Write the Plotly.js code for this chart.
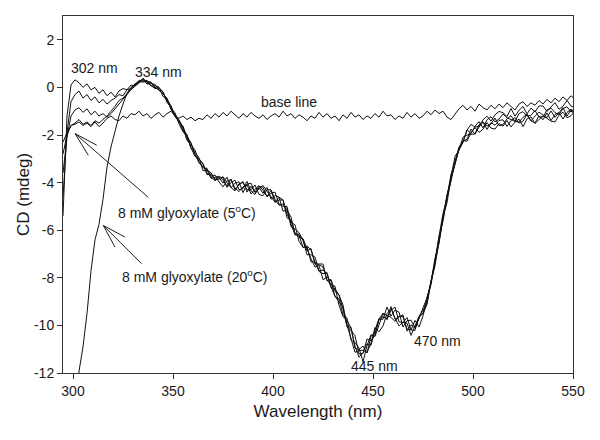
<!DOCTYPE html>
<html>
<head>
<meta charset="utf-8">
<script src="https://cdn.plot.ly/plotly-3.0.1.min.js"></script>
<style>html,body{margin:0;padding:0;background:#fff;}#chart{width:600px;height:440px;}</style>
</head>
<body>
<div id="chart"></div>
<script>
// Wavelength (nm)
const wavelength = [
295,297,299,301,303,305,307,309,311,313,
315,317,319,321,323,325,327,329,331,333,
335,337,339,341,343,345,347,349,351,353,
355,357,359,361,363,365,367,369,371,373,
375,377,379,381,383,385,387,389,391,393,
395,397,399,401,403,405,407,409,411,413,
415,417,419,421,423,425,427,429,431,433,
435,437,439,441,443,445,447,449,451,453,
455,457,459,461,463,465,467,469,471,473,
475,477,479,481,483,485,487,489,491,493,
495,497,499,501,503,505,507,509,511,513,
515,517,519,521,523,525,527,529,531,533,
535,537,539,541,543,545,547,549,551];

// CD (mdeg) – 8 mM glyoxylate, 5 °C scans
const scan1 = [
-5.4,-1.2,0.1,0.32,0.2,0.0,0.15,-0.1,0.0,-0.25,
-0.1,-0.35,-0.2,-0.4,-0.15,-0.05,-0.1,0.1,0.05,0.25,
0.36,0.14,0.16,0.13,-0.11,-0.30,-0.45,-0.89,-1.23,-1.41,
-1.81,-1.98,-2.57,-2.72,-2.96,-3.50,-3.49,-3.58,-3.89,-3.85,
-3.75,-4.00,-4.20,-4.35,-4.05,-4.00,-4.30,-4.30,-4.10,-4.50,
-4.55,-4.30,-4.30,-4.70,-4.95,-4.90,-5.10,-5.85,-5.95,-6.10,
-6.42,-6.87,-6.77,-7.42,-7.42,-7.42,-8.12,-8.07,-8.57,-8.72,
-9.14,-10.06,-10.21,-10.43,-11.20,-11.18,-10.57,-10.64,-10.41,-9.75,
-9.74,-9.23,-9.61,-9.36,-9.44,-10.07,-9.80,-9.78,-10.10,-9.72,
-9.25,-8.87,-8.21,-7.37,-6.26,-5.30,-4.63,-3.75,-2.90,-2.64,
-2.31,-1.80,-1.55,-1.67,-1.63,-1.36,-1.21,-1.42,-1.15,-1.01,
-1.06,-1.22,-0.89,-1.21,-0.96,-0.80,-1.11,-0.87,-1.03,-0.78,
-0.78,-1.01,-0.81,-0.64,-0.92,-0.79,-0.55,-0.78,-0.86];

const scan2 = [
-4.6,-1.9,-0.6,-0.3,-0.15,-0.45,-0.3,-0.55,-0.4,-0.65,
-0.5,-0.7,-0.55,-0.45,-0.3,-0.35,-0.1,-0.05,0.15,0.2,
0.38,0.22,0.08,-0.05,-0.01,-0.20,-0.59,-0.87,-1.07,-1.53,
-1.87,-2.04,-2.33,-2.81,-3.17,-3.32,-3.46,-3.82,-3.77,-3.73,
-3.90,-4.15,-3.85,-4.30,-4.10,-3.95,-4.40,-4.15,-4.40,-4.15,
-4.20,-4.60,-4.45,-4.40,-4.90,-5.00,-5.00,-5.75,-6.20,-6.20,
-6.73,-6.68,-7.33,-7.33,-7.48,-8.08,-7.98,-8.13,-8.78,-9.03,
-9.24,-9.98,-10.61,-11.13,-11.06,-11.04,-11.15,-10.74,-10.09,-10.27,
-10.02,-9.51,-9.29,-9.70,-10.02,-9.87,-9.90,-10.42,-10.02,-9.64,
-9.50,-9.12,-8.16,-7.50,-6.45,-5.43,-4.85,-3.82,-3.24,-2.59,
-2.23,-2.26,-1.91,-1.69,-1.89,-1.76,-1.48,-1.71,-1.75,-1.52,
-1.63,-1.39,-1.66,-1.46,-1.33,-1.65,-1.32,-1.24,-1.52,-1.35,
-1.19,-1.30,-1.42,-1.45,-1.17,-1.04,-1.28,-1.19,-0.99];

const scan3 = [
-3.6,-2.1,-1.2,-0.95,-0.85,-1.05,-0.9,-1.15,-1.0,-1.2,
-1.1,-1.25,-1.1,-0.9,-0.7,-0.5,-0.3,-0.1,0.05,0.2,
0.32,0.16,0.22,-0.03,-0.03,-0.18,-0.63,-0.81,-1.19,-1.39,
-1.66,-2.22,-2.42,-2.63,-3.14,-3.38,-3.40,-3.76,-3.92,-3.79,
-4.02,-3.77,-4.22,-4.02,-3.97,-4.42,-4.07,-4.02,-4.42,-4.27,
-4.12,-4.37,-4.62,-4.82,-4.62,-4.72,-5.32,-5.67,-5.77,-6.47,
-6.72,-6.67,-6.82,-7.37,-7.72,-7.67,-7.82,-8.42,-8.47,-8.72,
-9.31,-10.05,-10.08,-10.96,-11.01,-10.87,-11.16,-10.45,-10.34,-9.74,
-9.49,-9.76,-9.36,-9.23,-9.85,-9.88,-9.67,-10.19,-10.21,-9.65,
-9.48,-8.80,-8.29,-7.24,-6.28,-5.62,-4.56,-3.65,-3.16,-2.57,
-2.09,-2.00,-1.97,-1.95,-1.57,-1.44,-1.63,-1.54,-1.29,-1.61,
-1.56,-1.32,-1.19,-1.43,-1.46,-1.26,-1.13,-1.41,-1.21,-1.04,
-1.16,-1.27,-0.99,-1.26,-1.06,-0.85,-1.21,-0.92,-1.08];

const scan4 = [
-2.8,-2.0,-1.6,-1.5,-1.35,-1.55,-1.45,-1.6,-1.4,-1.5,
-1.35,-1.2,-1.0,-0.8,-0.55,-0.45,-0.25,-0.05,0.1,0.3,
0.26,0.30,0.06,0.07,0.01,-0.38,-0.51,-0.77,-1.21,-1.45,
-1.63,-2.10,-2.54,-2.90,-2.99,-3.23,-3.61,-3.73,-3.68,-3.97,
-4.18,-3.93,-3.88,-4.23,-4.38,-4.18,-4.08,-4.48,-4.28,-4.13,
-4.33,-4.58,-4.33,-4.83,-4.73,-4.73,-5.48,-5.58,-6.13,-6.18,
-6.43,-7.03,-7.03,-7.13,-7.73,-7.83,-7.78,-8.38,-8.78,-8.88,
-9.55,-9.69,-10.62,-10.72,-10.95,-11.53,-10.86,-10.39,-10.46,-9.98,
-9.49,-9.58,-9.66,-9.83,-9.61,-9.64,-10.15,-10.19,-9.79,-10.07,
-9.60,-8.92,-8.11,-7.39,-6.55,-5.50,-4.59,-3.95,-3.10,-2.51,
-2.27,-2.18,-1.75,-1.97,-1.67,-1.46,-1.77,-1.48,-1.59,-1.39,
-1.36,-1.64,-1.39,-1.27,-1.50,-1.42,-1.13,-1.41,-1.49,-1.20,
-1.36,-1.07,-1.39,-1.14,-1.06,-1.33,-1.05,-0.92,-1.20];

// CD (mdeg) – 8 mM glyoxylate, 20 °C
const scan20C = [
null,null,-14.0,-12.9,-11.85,-10.9,-9.5,-7.7,-6.4,-5.75,
-4.7,-3.35,-2.5,-1.8,-1.2,-0.7,-0.25,0.0,0.15,0.25,
0.22,0.26,0.22,0.01,-0.13,-0.26,-0.49,-0.93,-1.13,-1.37,
-1.72,-2.19,-2.33,-2.87,-3.02,-3.20,-3.67,-3.64,-3.86,-3.76,
-3.80,-4.20,-4.00,-3.90,-4.30,-4.25,-3.95,-4.35,-4.50,-4.20,
-4.45,-4.20,-4.70,-4.55,-4.60,-5.20,-5.15,-5.45,-6.15,-6.30,
-6.35,-6.80,-7.20,-7.55,-7.45,-7.55,-8.10,-8.30,-8.35,-9.15,
-9.64,-9.78,-10.11,-10.87,-11.34,-11.14,-10.77,-10.84,-10.19,-9.71,
-9.64,-9.73,-9.21,-9.74,-9.64,-9.55,-10.24,-9.98,-10.12,-9.62,
-9.36,-9.07,-8.17,-7.18,-6.49,-5.53,-4.50,-3.86,-3.22,-2.54,
-2.28,-1.78,-1.94,-1.63,-1.44,-1.70,-1.36,-1.23,-1.45,-1.33,
-1.12,-1.28,-1.35,-1.43,-1.10,-1.02,-1.21,-1.17,-0.97,-1.24,
-1.24,-0.95,-0.87,-1.06,-1.14,-0.89,-0.81,-1.04,-0.84];

// CD (mdeg) – base line
const baseLine = [
-2.3,-1.9,-1.6,-1.55,-1.45,-1.6,-1.5,-1.65,-1.45,-1.65,
-1.5,-1.3,-1.2,-1.35,-1.4,-1.2,-1.3,-1.1,-1.15,-1.0,
-1.2,-1.1,-1.3,-1.15,-1.05,-1.25,-1.1,-1.0,-1.2,-1.3,
-1.2,-1.35,-1.25,-1.4,-1.3,-1.35,-1.15,-1.3,-1.1,-1.25,
-1.05,-1.2,-1.0,-1.15,-1.3,-1.1,-1.25,-1.05,-1.2,-1.3,
-1.15,-1.35,-1.2,-1.1,-1.25,-1.0,-1.2,-1.1,-1.3,-1.15,
-1.25,-1.4,-1.2,-1.3,-1.05,-1.25,-1.1,-1.3,-1.2,-1.4,
-1.15,-1.3,-1.05,-1.25,-1.15,-1.35,-1.2,-1.3,-1.1,-1.25,
-1.0,-1.2,-1.15,-1.35,-1.2,-1.3,-1.05,-1.25,-1.1,-1.3,
-1.2,-1.0,-1.15,-0.95,-1.1,-1.0,-1.25,-1.35,-1.1,-0.9,
-0.75,-0.95,-0.8,-1.0,-0.7,-0.85,-0.95,-0.75,-0.9,-0.7,
-0.85,-0.65,-0.8,-0.95,-0.7,-0.6,-0.8,-0.65,-0.75,-0.55,
-0.7,-0.5,-0.65,-0.45,-0.6,-0.4,-0.55,-0.35,-0.5];

const xTickVals = [300, 350, 400, 450, 500, 550];
const yTickVals = [-12, -10, -8, -6, -4, -2, 0, 2];
const yTickText = ["-12", "-10", "-8", "-6", "-4", "-2", "0", "2"];

const seriesList = [
  {name: "8 mM glyoxylate (5°C) scan 1", y: scan1},
  {name: "8 mM glyoxylate (5°C) scan 2", y: scan2},
  {name: "8 mM glyoxylate (5°C) scan 3", y: scan3},
  {name: "8 mM glyoxylate (5°C) scan 4", y: scan4},
  {name: "8 mM glyoxylate (20°C)", y: scan20C},
  {name: "base line", y: baseLine}
];

const traces = seriesList.map(s => ({
  x: wavelength, y: s.y, name: s.name, type: "scatter", mode: "lines",
  line: {color: "#111", width: 1}, showlegend: false, hoverinfo: "skip"
}));

const FONT = "Liberation Sans, Arial, Helvetica, sans-serif";
const TXT = "#1a1a1a";
const annFont = {family: FONT, size: 14, color: TXT};

function label(text, x, y) {
  return {text: text, x: x, y: y, xref: "x", yref: "y", showarrow: false,
          xanchor: "center", yanchor: "middle", font: annFont};
}
function seg(x0, y0, x1, y1) {
  return {type: "line", xref: "x", yref: "y", x0: x0, y0: y0, x1: x1, y1: y1,
          line: {color: "#222", width: 1}};
}

const layout = {
  width: 600, height: 440,
  margin: {l: 63, r: 27, t: 16, b: 67},
  paper_bgcolor: "#fff", plot_bgcolor: "#fff",
  font: {family: FONT, color: TXT},
  showlegend: false,
  xaxis: {
    range: [295, 550], tickmode: "array", tickvals: xTickVals,
    ticks: "outside", ticklen: 5, tickwidth: 1, tickcolor: "#333",
    showline: true, linecolor: "#333", linewidth: 1, mirror: true,
    showgrid: false, zeroline: false,
    tickfont: {family: FONT, size: 14, color: TXT},
    title: {text: "Wavelength (nm)", font: {family: FONT, size: 17, color: TXT}, standoff: 7}
  },
  yaxis: {
    range: [-12, 3], tickmode: "array", tickvals: yTickVals, ticktext: yTickText,
    ticks: "outside", ticklen: 5, tickwidth: 1, tickcolor: "#333",
    showline: true, linecolor: "#333", linewidth: 1, mirror: true,
    showgrid: false, zeroline: false,
    tickfont: {family: FONT, size: 14, color: TXT},
    title: {text: "CD (mdeg)", font: {family: FONT, size: 17, color: TXT}, standoff: 0}
  },
  annotations: [
    label("302 nm", 310.75, 0.81),
    label("334 nm", 342.5, 0.64),
    label("base line", 408, -0.61),
    label("8 mM glyoxylate (5<sup>o</sup>C)", 356.75, -5.25),
    label("8 mM glyoxylate (20<sup>o</sup>C)", 361, -7.94),
    label("445 nm", 450.5, -11.69),
    label("470 nm", 482.25, -10.67)
  ],
  shapes: [
    seg(301, -1.94, 337.65, -4.62),
    seg(301, -1.94, 311.85, -2.43),
    seg(301, -1.94, 307.65, -2.85),
    seg(315.15, -5.80, 334.35, -7.41),
    seg(315.15, -5.80, 326, -6.29),
    seg(315.15, -5.80, 321, -6.71)
  ]
};

Plotly.newPlot("chart", traces, layout, {staticPlot: true, displayModeBar: false});
</script>
</body>
</html>
